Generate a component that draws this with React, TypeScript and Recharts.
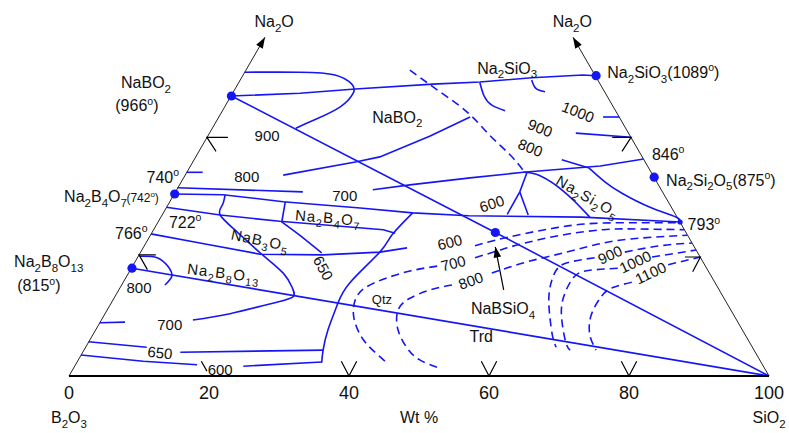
import React from 'react';
import { ScatterChart, Scatter, XAxis, YAxis } from 'recharts';

// ---------------- data (x = position on the Wt% base axis, y = height, same units) ----------------
const tickNumbers = [0, 20, 40, 60, 80, 100];
const axisTitles = [
  { at: 0, t: 'B_2O_3' },
  { at: 50, t: 'Wt %' },
  { at: 100, t: 'SiO_2' },
];
const axisTicks = [0, 20, 40, 50, 60, 80, 100];

// triangle frame
const baseEdge = [[0, 0], [100, 0]];
const leftEdge = [[0, 0], [28.0, 48.4]];
const rightEdge = [[100, 0], [72.0, 48.4]];
const axisArrows = [
  { x: 28.0, y: 48.4, dir: -60 },
  { x: 72.0, y: 48.4, dir: -120 },
];

// solid field boundaries / joins / isotherm pieces (straight)
const joinNaBO2_Na2SiO3 = [[23.2, 40.0], [33.0, 40.4], [40.9, 41.0], [52.0, 41.7], [58.7, 42.0], [66.1, 42.6], [73.4, 43.0], [75.3, 42.9]];
const joinNaBO2_SiO2 = [[23.2, 40.0], [60.9, 20.5], [100, 0]];
const joinNa2B8O13_SiO2 = [[9.0, 15.4], [100, 0]];
const iso800West = [[16.8, 29.1], [19.1, 29.1]];
const iso800Mid = [[30.6, 28.7], [41.1, 30.6], [44.4, 31.3], [51.6, 34.3], [57.3, 37.0]];
const iso700West = [[15.5, 26.9], [33.4, 26.3]];
const boundary846 = [[43.4, 26.6], [48.7, 27.3], [57.3, 28.3], [64.9, 29.1], [75.9, 30.0], [82.1, 31.0]];
const boundary793 = [[15.1, 26.0], [22.0, 25.9], [30.6, 24.9], [41.6, 24.0], [49.1, 23.3], [57.1, 22.9], [73.3, 22.7], [87.3, 22.0]];
const boundary722 = [[13.9, 24.1], [21.6, 23.0], [30.1, 22.1], [44.9, 20.9], [46.6, 20.4]];
const boundary766 = [[11.7, 20.3], [18.7, 19.0], [27.3, 17.4], [36.3, 17.3], [44.4, 17.7], [48.3, 18.3]];
const iso700Edge = [[4.4, 7.6], [8.0, 7.7]];
const boundaryNa2B4O7 = [[30.9, 24.9], [30.4, 22.0], [33.0, 20.1], [36.1, 17.6]];
const iso650a = [[2.8, 4.9], [11.1, 4.1]];
const iso650b = [[15.9, 3.4], [36.3, 3.7]];
const iso600a = [[1.7, 3.0], [10.6, 2.1], [18.3, 1.6]];
const iso600b = [[24.9, 1.4], [36.1, 2.0]];
const iso600Mid = [[65.4, 29.0], [64.4, 26.3], [62.6, 23.1]];
const iso600MidB = [[64.4, 26.3], [65.6, 23.0]];
const iso1000b = [[76.3, 37.0], [78.6, 37.0]];
const iso900East = [[72.4, 34.7], [80.3, 34.1]];
const iso800East = [[70.4, 30.9], [74.3, 29.7]];

// solid curves
const loopNaBO2 = [[25.1, 43.4], [33.0, 43.4], [38.0, 43.0], [40.4, 41.7], [40.6, 40.4], [38.7, 38.4], [35.1, 36.6], [32.4, 35.4]];
const boundaryQtz = [[49.1, 23.3], [46.1, 20.1], [44.4, 17.7], [40.1, 13.3], [38.3, 10.1], [37.0, 6.6], [36.3, 3.7], [36.1, 1.9]];
const boundaryNaB3O5 = [[22.3, 25.9], [21.9, 24.4], [21.6, 23.0], [24.0, 20.6], [27.3, 17.6], [30.6, 14.7], [31.9, 12.6], [32.0, 11.3], [29.1, 10.4], [23.0, 8.9], [17.7, 8.0]];
const iso800Na2B8O13 = [[10.1, 17.1], [12.6, 16.9], [14.1, 15.7], [14.7, 14.3], [13.7, 13.0]];
const boundaryNa2Si2O5a = [[64.9, 29.1], [67.3, 28.6], [71.0, 26.1], [74.4, 22.7]];
const boundaryNa2Si2O5b = [[74.3, 29.7], [76.6, 27.7], [79.0, 26.1], [83.0, 24.1], [86.7, 22.7], [87.3, 22.0]];
const iso1000a = [[58.7, 41.9], [59.3, 40.0], [60.4, 38.7], [62.3, 37.9]];
const iso1050 = [[66.1, 42.3], [66.7, 41.1], [68.0, 40.6]];

// dashed isotherms / boundary
const dashBoundary = [[48.7, 43.7], [53.0, 40.6], [57.0, 37.6], [60.1, 34.4], [63.0, 31.6], [65.1, 29.1]];
const dash600 = [[58.0, 18.6], [60.9, 19.4], [64.9, 20.3], [69.7, 21.2], [75.0, 21.8], [81.6, 21.9], [87.1, 21.9]];
const dash700East = [[58.0, 16.9], [61.6, 18.0], [64.0, 18.7], [69.7, 20.0], [76.3, 20.9], [81.6, 21.0], [87.9, 20.9]];
const dash800East = [[60.4, 14.7], [65.4, 16.3], [71.1, 17.7], [76.3, 19.0], [81.6, 19.7], [88.3, 20.1]];
const dash700West = [[52.6, 15.7], [48.7, 15.0], [45.1, 13.9], [42.3, 12.6], [40.9, 10.9], [40.7, 8.3], [41.9, 5.4], [43.7, 3.4], [45.4, 1.9]];
const dash800West = [[54.7, 13.0], [51.6, 12.3], [48.7, 11.1], [47.0, 9.4], [47.0, 6.6], [48.3, 4.0], [50.1, 2.3], [53.0, 1.1]];
const dash900East = [[79.4, 17.7], [84.4, 18.6], [89.0, 19.0]];
const dash900West = [[75.1, 16.9], [71.6, 16.3], [69.6, 15.1], [68.6, 11.9], [68.7, 8.4], [69.1, 5.6], [69.6, 4.1]];
const dash1000East = [[83.3, 17.0], [89.6, 18.0]];
const dash1000West = [[78.4, 15.4], [74.4, 15.1], [72.1, 14.1], [70.6, 11.1], [70.4, 8.0], [71.0, 4.7], [71.6, 3.7]];
const dash1100East = [[85.6, 15.9], [90.2, 17.0]];
const dash1100West = [[80.4, 13.4], [77.6, 12.6], [76.0, 11.3], [74.6, 8.7], [74.4, 5.9], [75.3, 3.7]];

// black composition marks
const compositionMarks = [
  [[38.9, 2.1], [40, 0], [41.1, 2.1]],
  [[58.9, 2.1], [60, 0], [61.1, 2.1]],
  [[78.9, 2.1], [80, 0], [81.1, 2.1]],
  [[18.9, 2.1], [19.7, 0.7]],
  [[22.7, 34.1], [19.7, 34.1], [21.0, 32.1]],
  [[12.4, 17.3], [10.0, 17.3], [11.2, 15.2]],
  [[77.6, 34.1], [80.3, 34.1], [79.0, 32.1]],
  [[88.0, 17.0], [90.2, 17.0], [89.1, 14.9]],
];
const pointerLine = [[62.1, 12.3], [60.9, 18.4]];
const pointerTip = [{ x: 60.9, y: 18.5, dir: -101 }];

// compounds and invariant point
const compounds = [
  { x: 23.2, y: 40.0 },
  { x: 15.1, y: 26.0 },
  { x: 9.0, y: 15.4 },
  { x: 75.3, y: 42.9 },
  { x: 83.6, y: 28.4 },
  { x: 60.9, y: 20.5 },
];
const eutectic = [{ x: 87.3, y: 22.0 }];

// labels
const nameLabels = [
  { t: 'Na_2O', x: 29.3, y: 50.7 },
  { t: 'Na_2O', x: 71.9, y: 50.7 },
  { t: 'NaBO_2', x: 11.0, y: 41.9 },
  { t: '(966^o)', x: 9.7, y: 38.6 },
  { t: '740^o', x: 13.4, y: 28.4 },
  { t: '722^o', x: 16.6, y: 22.0 },
  { t: '766^o', x: 8.9, y: 20.4 },
  { t: 'Na_2B_8O_13', x: -2.9, y: 16.4 },
  { t: '(815^o)', x: -4.3, y: 12.9 },
  { t: 'NaBO_2', x: 46.9, y: 37.0 },
  { t: 'Na_2SiO_3', x: 62.6, y: 44.0 },
  { t: 'NaBSiO_4', x: 62.0, y: 9.7 },
  { t: 'Trd', x: 58.9, y: 5.6 },
  { t: '793^o', x: 90.7, y: 21.6 },
  { t: '846^o', x: 85.6, y: 31.7 },
];
const startLabels = [
  { t: 'Na_2SiO_3(1089^o)', x: 76.9, y: 43.4 },
  { t: 'Na_2Si_2O_5(875^o)', x: 85.3, y: 28.0 },
  { t: 'Na_2B_4O_7', x: -0.7, y: 25.6 },
];
const smallStartLabels = [{ t: '(742^o)', x: 8.2, y: 25.5 }];
const minorLabels = [{ t: 'Qtz', x: 44.7, y: 11.0 }];
const isoLabels = [
  { t: '900', x: 28.3, y: 34.3, rot: 0 },
  { t: '800', x: 25.4, y: 28.4, rot: 0 },
  { t: '700', x: 39.4, y: 25.7, rot: 0 },
  { t: '800', x: 10.0, y: 12.6, rot: 0 },
  { t: '700', x: 14.4, y: 7.3, rot: 0 },
  { t: '650', x: 13.0, y: 3.3, rot: 6 },
  { t: '600', x: 21.6, y: 0.9, rot: 0 },
  { t: '650', x: 36.3, y: 15.4, rot: 62 },
  { t: '1000', x: 72.7, y: 37.7, rot: 22 },
  { t: '900', x: 67.3, y: 35.4, rot: 22 },
  { t: '800', x: 65.9, y: 32.6, rot: 22 },
  { t: '600', x: 60.4, y: 24.6, rot: -18 },
  { t: '600', x: 54.4, y: 19.1, rot: -14 },
  { t: '700', x: 54.9, y: 16.1, rot: -14 },
  { t: '800', x: 57.4, y: 13.6, rot: -20 },
  { t: '900', x: 77.3, y: 17.3, rot: -25 },
  { t: '1000', x: 80.9, y: 16.3, rot: -25 },
  { t: '1100', x: 83.1, y: 14.7, rot: -25 },
];
const phaseLabels = [
  { t: 'Na_2B_4O_7', x: 37.0, y: 22.6, rot: 5 },
  { t: 'NaB_3O_5', x: 27.3, y: 19.4, rot: 12 },
  { t: 'Na_2B_8O_13', x: 22.1, y: 14.7, rot: 7 },
  { t: 'Na_2Si_2O_5', x: 74.1, y: 25.6, rot: 30 },
];

// ---------------- rendering ----------------
const BLUE = '#1616f4';
const INK = '#111111';
const FONT = '"Liberation Sans", Arial, Helvetica, sans-serif';

const pts = (a: number[][]) => a.map(([x, y]) => ({ x, y }));

function rich(str: string, size: number) {
  const tokens = str.split(/(_\d+|\^o)/).filter((s) => s.length > 0);
  let cur = 0;
  return tokens.map((tk, i) => {
    let target = 0;
    let text = tk;
    let fs = size;
    if (tk[0] === '_') {
      target = size * 0.3;
      text = tk.slice(1);
      fs = size * 0.72;
    } else if (tk[0] === '^') {
      target = -size * 0.42;
      text = tk.slice(1);
      fs = size * 0.66;
    }
    const dy = target - cur;
    cur = target;
    return (
      <tspan key={i} dy={dy} fontSize={fs}>
        {text}
      </tspan>
    );
  });
}

const Empty = () => <g />;

const makeLabel = (size: number, anchor: string, spacing = 0) => (props: any) => {
  const { cx, cy, payload } = props;
  const rot = payload.rot || 0;
  return (
    <text
      x={cx}
      y={cy + size * 0.35}
      fontSize={size}
      fontFamily={FONT}
      fill={INK}
      textAnchor={anchor as any}
      style={{ letterSpacing: spacing ? `${spacing}px` : undefined }}
      transform={rot ? `rotate(${rot} ${cx} ${cy})` : undefined}
    >
      {rich(payload.t, size)}
    </text>
  );
};

const ArrowHead = (props: any) => {
  const { cx, cy, payload } = props;
  return <path d="M0,0 L-11,-3.8 L-11,3.8 Z" fill="#000" transform={`translate(${cx},${cy}) rotate(${payload.dir})`} />;
};
const Dot = (props: any) => <circle cx={props.cx} cy={props.cy} r={4.6} fill={BLUE} />;
const SmallDot = (props: any) => <circle cx={props.cx} cy={props.cy} r={2.6} fill={BLUE} />;

const AxisTick = (props: any) => {
  const { x, y, payload } = props;
  const v = payload.value;
  const title = axisTitles.find((a) => a.at === v);
  return (
    <g>
      {tickNumbers.includes(v) && (
        <text x={x} y={y + 23} textAnchor="middle" fontSize={18} fontFamily={FONT} fill={INK}>
          {String(v)}
        </text>
      )}
      {title && (
        <text x={x} y={y + 47} textAnchor="middle" fontSize={16} fontFamily={FONT} fill={INK}>
          {rich(title.t, 16)}
        </text>
      )}
    </g>
  );
};

type LineDef = { data: number[][]; stroke: string; width: number; dash?: string; curve: any };

const solidStraight = [
  joinNaBO2_Na2SiO3, joinNaBO2_SiO2, joinNa2B8O13_SiO2, iso800West, iso800Mid, iso700West, boundary846,
  boundary793, boundary722, boundary766, iso700Edge, boundaryNa2B4O7, iso650a, iso650b, iso600a, iso600b,
  iso600Mid, iso600MidB, iso1000b, iso900East, iso800East,
];
const solidCurved = [loopNaBO2, boundaryQtz, boundaryNaB3O5, iso800Na2B8O13, boundaryNa2Si2O5a, boundaryNa2Si2O5b, iso1000a, iso1050];
const dashedCurved = [
  dashBoundary, dash600, dash700East, dash800East, dash700West, dash800West, dash900East, dash900West,
  dash1000East, dash1000West, dash1100East, dash1100West,
];

const lineDefs: LineDef[] = [
  { data: leftEdge, stroke: '#222', width: 1, curve: 'linear' },
  { data: rightEdge, stroke: '#222', width: 1, curve: 'linear' },
  ...solidStraight.map((d) => ({ data: d, stroke: BLUE, width: 1.6, curve: 'linear' })),
  ...solidCurved.map((d) => ({ data: d, stroke: BLUE, width: 1.6, curve: 'natural' })),
  ...dashedCurved.map((d) => ({ data: d, stroke: BLUE, width: 1.6, dash: '8 5', curve: 'natural' })),
  ...compositionMarks.map((d) => ({ data: d, stroke: '#000', width: 1.2, curve: 'linear' })),
  { data: pointerLine, stroke: '#000', width: 1.2, curve: 'linear' },
  { data: baseEdge, stroke: '#000', width: 2, curve: 'linear' },
];

export default function App() {
  return (
    <div style={{ position: 'absolute', left: 0, top: 0, width: 789, height: 433, background: '#fff' }}>
      <ScatterChart width={789} height={433} margin={{ top: 12, right: 6, bottom: 0, left: 6 }}>
        <XAxis
          type="number"
          dataKey="x"
          domain={[-9, 102]}
          ticks={axisTicks}
          interval={0}
          tickLine={false}
          axisLine={false}
          tickSize={0}
          tickMargin={0}
          height={57}
          tick={(p: any) => <AxisTick {...p} />}
        />
        <YAxis type="number" dataKey="y" domain={[0, 52]} hide />
        {lineDefs.map((d, i) => (
          <Scatter
            key={`l${i}`}
            data={pts(d.data)}
            line={{ stroke: d.stroke, strokeWidth: d.width, strokeDasharray: d.dash, fill: 'none' }}
            lineType="joint"
            lineJointType={d.curve}
            shape={Empty}
            isAnimationActive={false}
          />
        ))}
        <Scatter data={axisArrows} shape={ArrowHead} isAnimationActive={false} />
        <Scatter data={pointerTip} shape={ArrowHead} isAnimationActive={false} />
        <Scatter data={compounds} shape={Dot} isAnimationActive={false} />
        <Scatter data={eutectic} shape={SmallDot} isAnimationActive={false} />
        <Scatter data={nameLabels} shape={makeLabel(16, 'middle')} isAnimationActive={false} />
        <Scatter data={startLabels} shape={makeLabel(16, 'start')} isAnimationActive={false} />
        <Scatter data={smallStartLabels} shape={makeLabel(12, 'start')} isAnimationActive={false} />
        <Scatter data={minorLabels} shape={makeLabel(13, 'middle')} isAnimationActive={false} />
        <Scatter data={isoLabels} shape={makeLabel(15, 'middle')} isAnimationActive={false} />
        <Scatter data={phaseLabels} shape={makeLabel(15, 'middle', 1)} isAnimationActive={false} />
      </ScatterChart>
    </div>
  );
}
